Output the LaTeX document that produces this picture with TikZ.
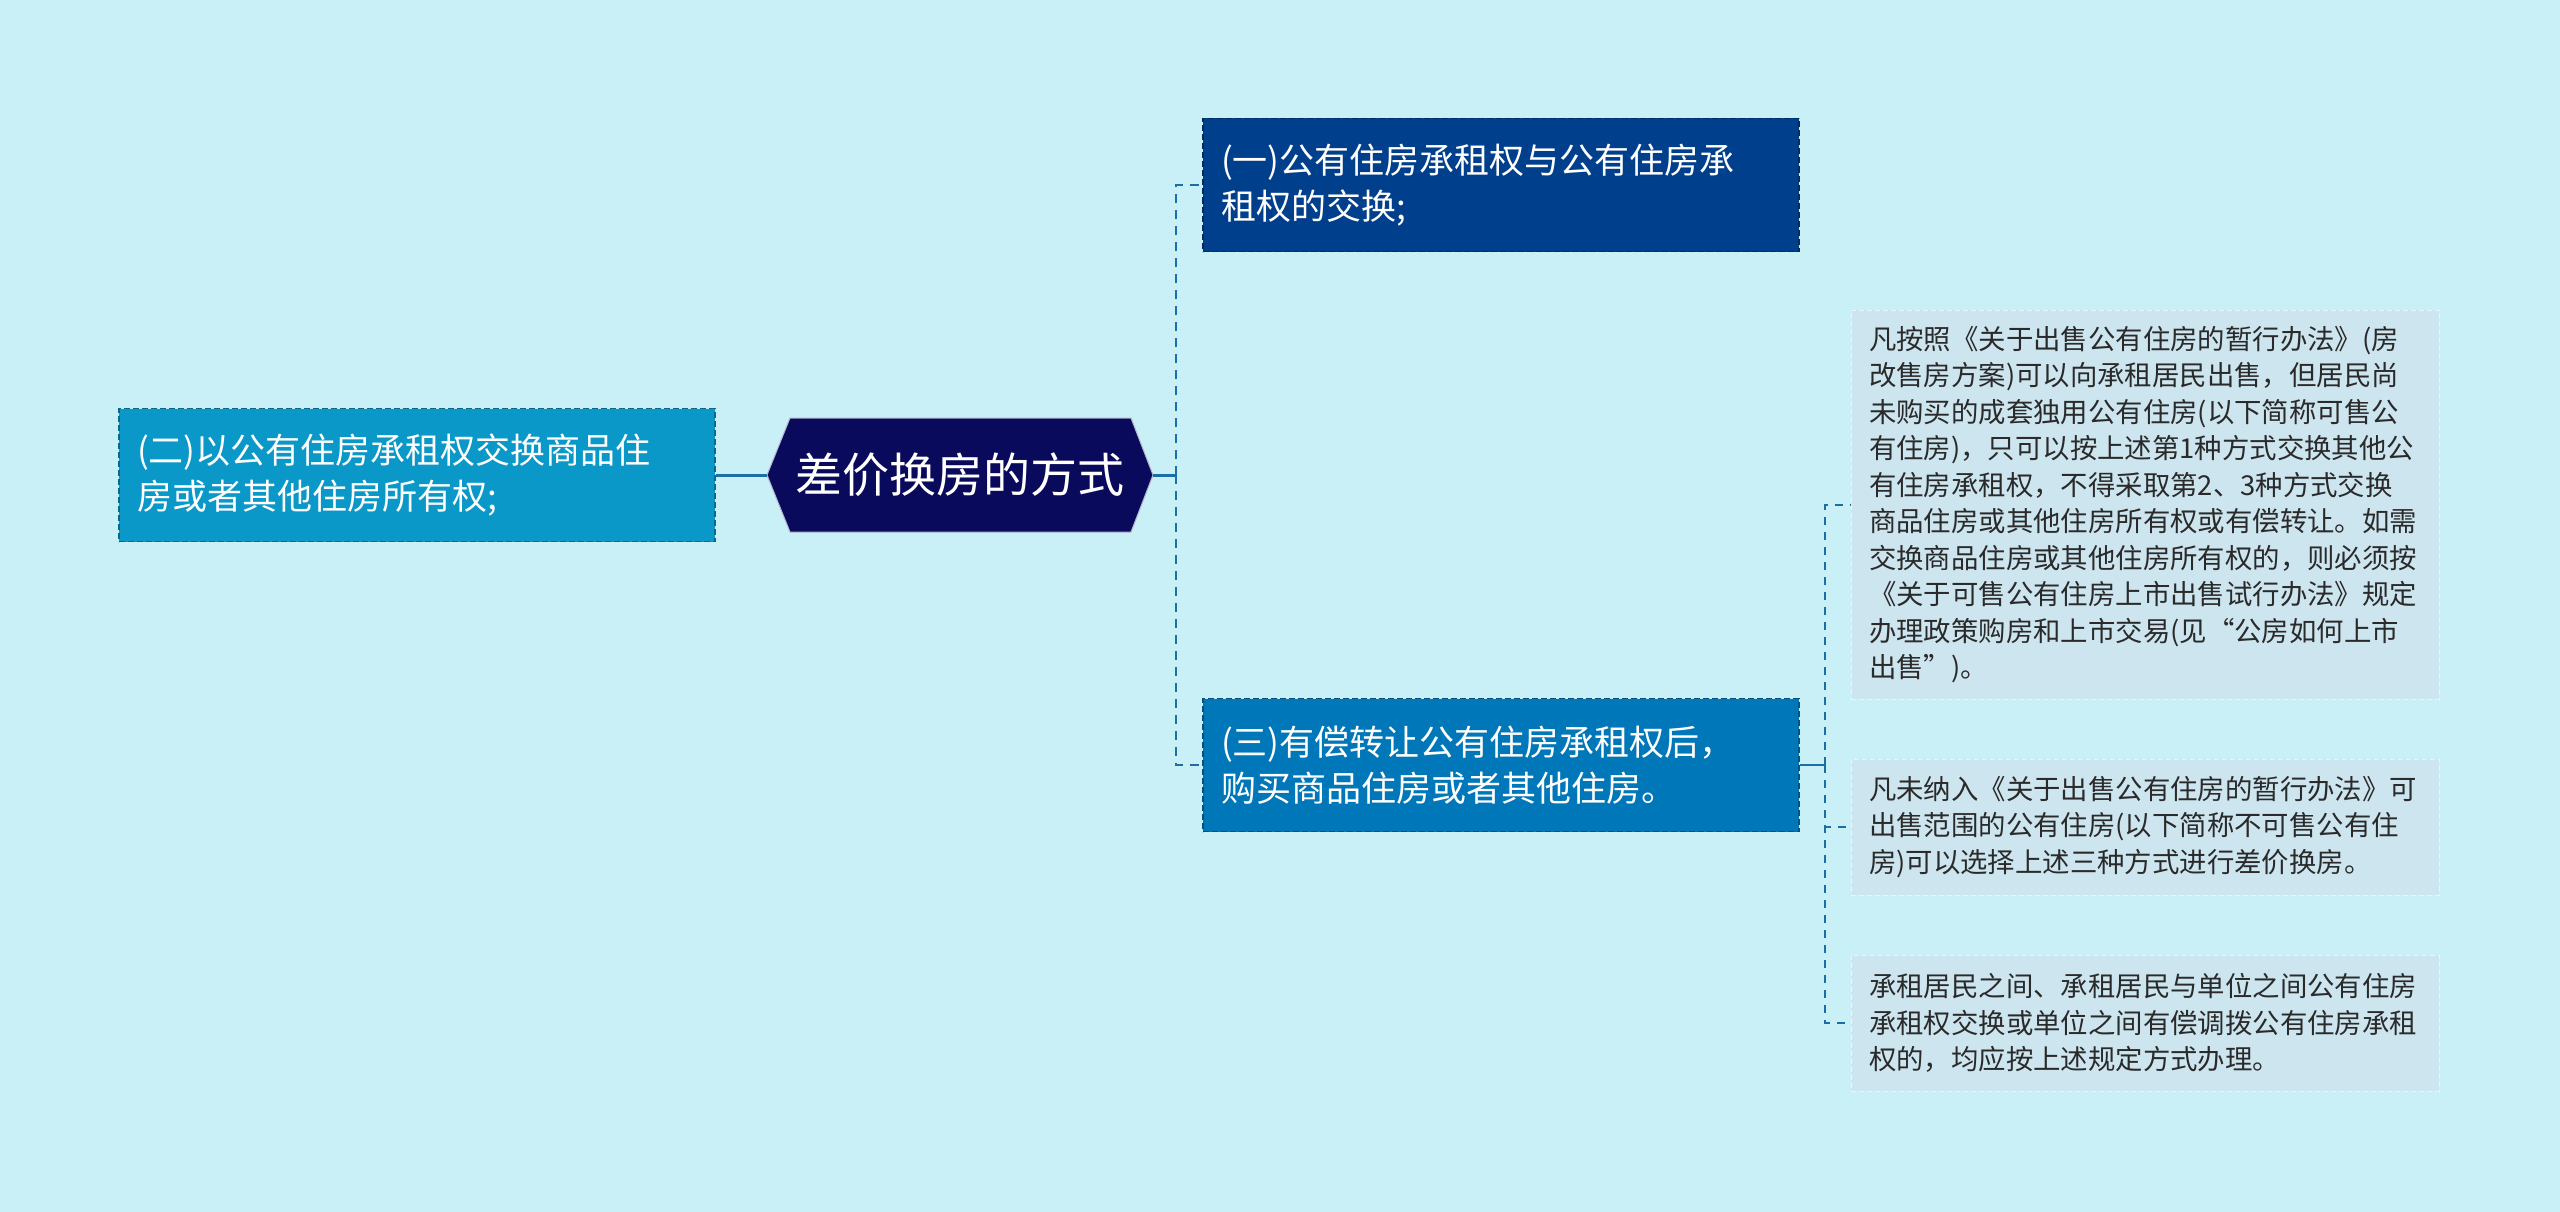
\documentclass[tikz,border=0pt]{standalone}
\usepackage{fontspec}
\setmainfont{Noto Sans CJK SC}
\definecolor{bg}{HTML}{C9EFF7}
\definecolor{rootc}{HTML}{0A0A5C}
\definecolor{leftc}{HTML}{0A98C8}
\definecolor{topc}{HTML}{003F8C}
\definecolor{midc}{HTML}{0077B8}
\definecolor{leafc}{HTML}{CDE5EF}
\definecolor{linec}{HTML}{1C6FA6}
\definecolor{leaftext}{HTML}{2A2A2A}
\begin{document}
\begin{tikzpicture}[x=1pt,y=-1pt,
  mainbox/.style={rectangle, text=white, draw=#1!70!black, dashed, line width=1.5pt,
    dash pattern=on 6pt off 3pt, fill=#1, minimum width=596, minimum height=133,
    text width=560, inner xsep=18, align=left,
    font=\fontsize{35}{46}\selectfont},
  leafbox/.style={rectangle, text=leaftext, fill=leafc, draw=white!60!leafc, dashed,
    line width=1pt, dash pattern=on 5pt off 3pt, minimum width=588,
    text width=552, inner xsep=18, align=left,
    font=\fontsize{27.4}{36.5}\selectfont},
  solidlink/.style={draw=linec, line width=3pt},
  dashlink/.style={draw=linec, line width=2.5pt, dash pattern=on 9pt off 7pt},
  leaflink/.style={draw=linec, line width=2pt, dash pattern=on 8pt off 7pt}]
\fill[bg] (0,0) rectangle (2560,1212);
\useasboundingbox (0,0) rectangle (2560,1212);

% root hexagon
\node[minimum width=386, minimum height=114, inner sep=0, text=white,
  font=\fontsize{47}{56}\selectfont] (root) at (960,475) {};
\fill[rootc] (767,475) -- (790,418) -- (1131,418) -- (1153,475) -- (1131,532) -- (790,532) -- cycle;
\draw[white!70!rootc, line width=1pt] (767,475) -- (790,418) -- (1131,418) -- (1153,475) -- (1131,532) -- (790,532) -- cycle;
\node[text=white, font=\fontsize{47}{56}\selectfont] (roottext) at (root.center) {差价换房的方式};

\node[mainbox=leftc] (left) at (417,475) {(二)以公有住房承租权交换商品住\\房或者其他住房所有权;};
\node[mainbox=topc] (n1) at (1501,185) {(一)公有住房承租权与公有住房承\\租权的交换;};
\node[mainbox=midc] (n3) at (1501,765) {(三)有偿转让公有住房承租权后，\\购买商品住房或者其他住房。};

\node[leafbox, minimum height=389] (l1) at (2145,504.5) {凡按照《关于出售公有住房的暂行办法》(房\\改售房方案)可以向承租居民出售，但居民尚\\未购买的成套独用公有住房(以下简称可售公\\有住房)，只可以按上述第1种方式交换其他公\\有住房承租权，不得采取第2、3种方式交换\\商品住房或其他住房所有权或有偿转让。如需\\交换商品住房或其他住房所有权的，则必须按\\《关于可售公有住房上市出售试行办法》规定\\办理政策购房和上市交易(见“公房如何上市\\出售”)。};
\node[leafbox, minimum height=136] (l2) at (2145,827) {凡未纳入《关于出售公有住房的暂行办法》可\\出售范围的公有住房(以下简称不可售公有住\\房)可以选择上述三种方式进行差价换房。};
\node[leafbox, minimum height=136] (l3) at (2145,1023) {承租居民之间、承租居民与单位之间公有住房\\承租权交换或单位之间有偿调拨公有住房承租\\权的，均应按上述规定方式办理。};

% connectors
\coordinate (jr) at (1176,475);
\coordinate (jl) at (1825,765);
\draw[solidlink] (left.east) -- (root.west);
\draw[solidlink] (root.east) -- (jr);
\draw[dashlink] (jr) -- (jr |- n1.west) -- (n1.west);
\draw[dashlink] (jr) -- (jr |- n3.west) -- (n3.west);
\draw[solidlink, line width=2pt] (n3.east) -- (jl);
\draw[leaflink] (jl) -- (jl |- l1.west) -- (l1.west);
\draw[leaflink] (jl) -- (jl |- l2.west) -- (l2.west);
\draw[leaflink] (jl) -- (jl |- l3.west) -- (l3.west);
\end{tikzpicture}
\end{document}
